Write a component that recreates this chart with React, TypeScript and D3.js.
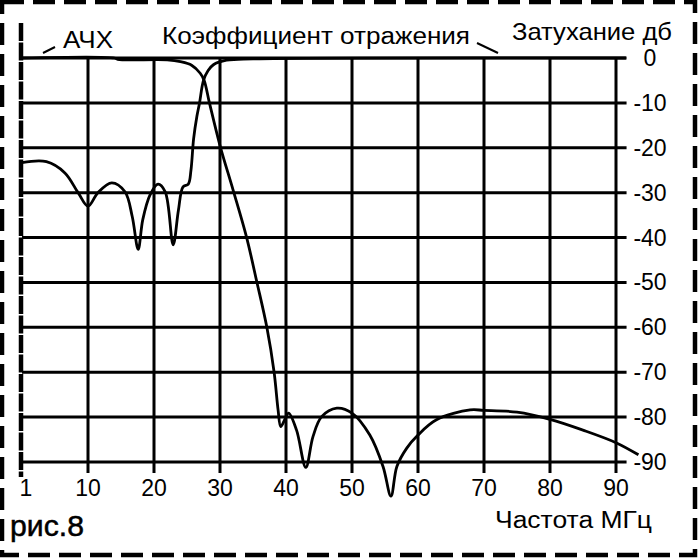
import { useEffect, useRef } from "react";
import * as d3 from "d3";

// частоты (МГц) и затухание (дБ)
const achFreq = [0, 14, 14.5, 22, 24, 25.7, 27, 27.6, 28.4, 30, 32, 34, 35.6, 37.1, 38.2, 38.8, 39.2, 39.8, 40.4, 41.6, 43, 44.1, 45.4, 47.7, 50, 52.7, 54.7, 55.9, 56.8, 58.3, 60, 62.8, 67.9, 70, 75, 80, 85, 90, 93.4];
const achDb = [0, 0, -0.3, -0.4, -0.8, -1.6, -3.4, -5, -10, -19.5, -29.5, -39.8, -50, -60, -70, -78.4, -82.1, -80.6, -79.1, -82.9, -91.2, -84.3, -79.9, -78, -79.1, -84, -91, -97.6, -91, -86.9, -84, -80.6, -78.4, -78.5, -78.9, -80.5, -82.9, -85.7, -88.4];

const reflFreq = [0, 3.7, 6.5, 8.5, 10, 11.5, 13.6, 15.6, 16.7, 17.6, 18.3, 19.4, 20.6, 21.7, 22.9, 23.7, 24.4, 25.2, 25.6, 26, 26.5, 26.9, 27.5, 28.2, 29, 31, 35, 91.5];
const reflDb = [-23.3, -23.1, -25.6, -30, -33, -30, -27.8, -29.8, -35.3, -42.6, -36, -30.5, -28.1, -29.8, -41.6, -33.9, -28.7, -28.1, -25, -18, -13, -10, -5, -2.8, -1.5, -0.5, -0.2, 0];

const xTicks = [0, 10, 20, 30, 40, 50, 60, 70, 80, 90];
const xTickLabels = ["1", "10", "20", "30", "40", "50", "60", "70", "80", "90"];
const yTicks = [0, -10, -20, -30, -40, -50, -60, -70, -80, -90];

const FONT = "'Liberation Sans', Arial, sans-serif";

export default function App() {
  const svgRef = useRef<SVGSVGElement>(null);

  useEffect(() => {
    if (!svgRef.current) return;
    const svg = d3.select(svgRef.current);
    svg.selectAll("*").remove();

    const W = 700;
    const H = 559;
    const x = d3.scaleLinear().domain([0, 90]).range([22, 616]);
    const y = d3.scaleLinear().domain([0, -90]).range([58, 462]);
    const xEnd = 91.6;

    svg.attr("width", W).attr("height", H);
    svg.append("rect").attr("width", W).attr("height", H).attr("fill", "#fff");

    // рамка пунктиром
    svg.append("rect")
      .attr("x", 2).attr("y", 2).attr("width", 693).attr("height", 553)
      .attr("fill", "none").attr("stroke", "#000")
      .attr("stroke-width", 4.5).attr("stroke-dasharray", "22 9");

    const g = svg.append("g");

    // горизонтальная сетка
    g.selectAll(".hgrid").data(yTicks).join("line")
      .attr("x1", x(0)).attr("x2", x(xEnd))
      .attr("y1", (d) => y(d)).attr("y2", (d) => y(d))
      .attr("stroke", "#000").attr("stroke-width", 3);

    // вертикальная сетка
    g.selectAll(".vgrid").data(xTicks.slice(1)).join("line")
      .attr("x1", (d) => x(d)).attr("x2", (d) => x(d))
      .attr("y1", y(0)).attr("y2", y(-90) + 11)
      .attr("stroke", "#000").attr("stroke-width", 3);

    // левая ось
    g.append("line")
      .attr("x1", x(0) - 1).attr("x2", x(0) - 1)
      .attr("y1", 23).attr("y2", 477)
      .attr("stroke", "#000").attr("stroke-width", 4.5)
      .attr("stroke-dasharray", "18 1.5");

    // подписи осей
    g.selectAll(".xlab").data(xTicks).join("text")
      .attr("x", (d) => x(d) + (d === 0 ? 4 : 0))
      .attr("y", 496)
      .attr("text-anchor", "middle")
      .attr("font-family", FONT).attr("font-size", 23)
      .text((_, i) => xTickLabels[i]);

    g.selectAll(".ylab").data(yTicks).join("text")
      .attr("x", 650)
      .attr("y", (d) => y(d) + 8)
      .attr("text-anchor", "middle")
      .attr("font-family", FONT).attr("font-size", 23)
      .text((d) => `${d}`);

    const line = d3.line<number>()
      .x((d) => x(d))
      .curve(d3.curveCatmullRom.alpha(0.5));

    g.append("path")
      .attr("d", line.y((_, i) => y(reflDb[i]))(reflFreq))
      .attr("fill", "none").attr("stroke", "#000").attr("stroke-width", 2.8);

    g.append("path")
      .attr("d", line.y((_, i) => y(achDb[i]))(achFreq))
      .attr("fill", "none").attr("stroke", "#000").attr("stroke-width", 2.8);

    // выноски
    g.append("line").attr("x1", 43).attr("y1", 53).attr("x2", 55).attr("y2", 47)
      .attr("stroke", "#000").attr("stroke-width", 2);
    g.append("line").attr("x1", 477).attr("y1", 43).attr("x2", 498).attr("y2", 53)
      .attr("stroke", "#000").attr("stroke-width", 2);

    const label = (tx: number, ty: number, s: string, size: number, len?: number) => {
      const t = g.append("text").attr("x", tx).attr("y", ty)
        .attr("font-family", FONT).attr("font-size", size).text(s);
      if (len) t.attr("textLength", len).attr("lengthAdjust", "spacingAndGlyphs");
      return t;
    };

    label(63, 48, "АЧХ", 24, 50);
    label(162, 44, "Коэффициент отражения", 23, 308);
    label(512, 40, "Затухание дб", 24, 160);
    label(495, 528, "Частота МГц", 23, 157);
    label(10, 536, "рис.8", 30, 74).attr("stroke", "#000").attr("stroke-width", 0.5);
  }, []);

  return (
    <div style={{ position: "absolute", left: 0, top: 0 }}>
      <svg ref={svgRef} />
    </div>
  );
}
